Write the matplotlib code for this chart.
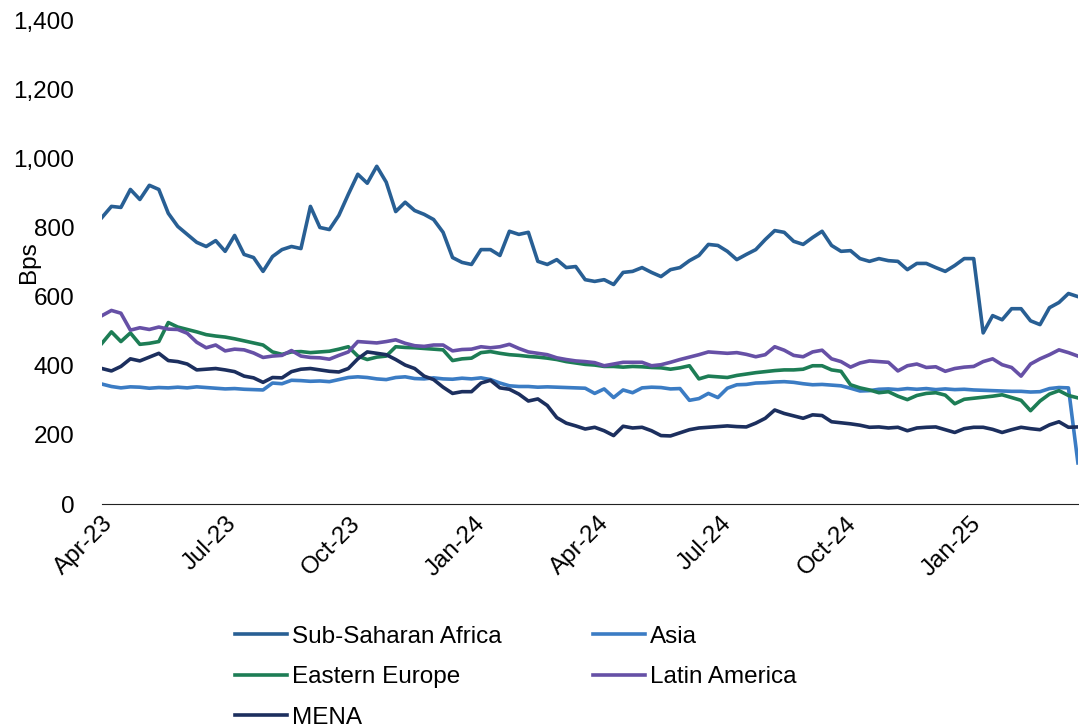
import pandas as pd
import numpy as np
import matplotlib.pyplot as plt
import matplotlib.dates as mdates
from matplotlib.ticker import FuncFormatter

plt.rcParams['font.family'] = ['Liberation Sans', 'DejaVu Sans']

# weekly readings, Apr-23 to Mar-25 (bps)
dates = pd.date_range('2023-04-01', periods=104, freq='7D')

ssa = [829, 861, 858, 910, 881, 922, 910, 841, 803, 780, 757, 745, 762, 731, 777, 722,
       713, 673, 716, 736, 745, 739, 861, 800, 794, 835, 896, 954, 928, 977, 931, 846,
       873, 849, 838, 823, 786, 713, 699, 693, 736, 736, 719, 789, 780, 786, 702, 693,
       707, 684, 687, 649, 644, 649, 635, 670, 673, 684, 670, 658, 678, 684, 704, 719,
       751, 748, 731, 707, 722, 736, 765, 791, 786, 760, 751, 771, 789, 748, 731, 733,
       710, 702, 710, 704, 702, 678, 696, 696, 684, 673, 690, 710, 710, 495, 545, 533,
       565, 565, 530, 519, 568, 583, 609, 600]

asia = [347, 340, 336, 339, 338, 335, 337, 336, 338, 336, 339, 337, 335, 333, 334, 332,
        331, 330, 350, 348, 358, 357, 355, 356, 354, 360, 366, 368, 366, 362, 360, 366,
        368, 363, 362, 365, 362, 361, 364, 362, 365, 360, 350, 342, 340, 340, 338, 339,
        338, 337, 336, 335, 320, 333, 308, 330, 322, 336, 338, 337, 333, 334, 300, 305,
        320, 308, 335, 345, 346, 350, 351, 353, 354, 352, 348, 345, 346, 344, 342, 335,
        327, 328, 332, 333, 331, 334, 332, 334, 331, 333, 331, 332, 330, 329, 328, 327,
        326, 326, 324, 325, 334, 337, 336, 119]

eastern_europe = [465, 498, 470, 495, 462, 465, 470, 525, 512, 505, 498, 490, 486, 483, 478, 472,
                  466, 460, 440, 433, 440, 441, 438, 440, 442, 448, 455, 428, 418, 425, 428, 455,
                  453, 452, 450, 448, 446, 415, 420, 422, 438, 441, 436, 432, 430, 427, 425, 422,
                  418, 412, 408, 404, 402, 398, 398, 396, 398, 397, 395, 394, 390, 394, 400, 362,
                  370, 368, 366, 372, 376, 380, 383, 386, 388, 388, 390, 400, 400, 388, 384, 345,
                  336, 330, 322, 325, 312, 302, 314, 320, 322, 315, 290, 303, 306, 309, 312, 316,
                  308, 300, 270, 298, 318, 328, 314, 307]

latin_america = [545, 560, 552, 503, 510, 505, 512, 506, 505, 494, 468, 452, 460, 443, 448, 446,
                 437, 424, 428, 430, 444, 428, 424, 423, 419, 430, 440, 470, 468, 466, 470, 475,
                 465, 458, 456, 460, 460, 443, 447, 448, 455, 452, 455, 462, 450, 440, 436, 432,
                 423, 418, 414, 412, 409, 400, 405, 410, 410, 410, 400, 403, 410, 418, 425, 432,
                 440, 438, 436, 438, 433, 426, 432, 455, 445, 430, 426, 440, 445, 420, 412, 396,
                 408, 414, 412, 410, 385, 400, 405, 395, 397, 384, 392, 396, 398, 412, 420, 403,
                 395, 370, 405, 420, 432, 446, 438, 428]

mena = [392, 385, 398, 420, 414, 425, 436, 415, 412, 405, 388, 390, 392, 388, 383, 370,
        365, 352, 366, 365, 383, 390, 392, 388, 384, 382, 392, 420, 440, 436, 432, 418,
        402, 392, 370, 360, 338, 320, 325, 325, 350, 358, 336, 332, 318, 298, 304, 285,
        250, 234, 226, 217, 222, 212, 198, 225, 220, 222, 212, 198, 197, 206, 215, 220,
        222, 224, 226, 224, 223, 234, 248, 272, 262, 255, 248, 258, 256, 238, 235, 232,
        228, 222, 223, 220, 222, 212, 220, 222, 223, 215, 207, 218, 222, 222, 216, 207,
        215, 222, 218, 215, 229, 238, 222, 223]

df = pd.DataFrame({'Sub-Saharan Africa': ssa, 'Asia': asia, 'Eastern Europe': eastern_europe,
                   'Latin America': latin_america, 'MENA': mena}, index=dates)
colors = {'Sub-Saharan Africa': '#285F94', 'Asia': '#3B7CC4', 'Eastern Europe': '#1D7D55',
          'Latin America': '#6650A6', 'MENA': '#1C2F5E'}

fig = plt.figure(figsize=(10.79, 7.27), dpi=100)
ax = fig.add_axes([0.0945, 0.3067, 0.9045, 0.6657])

lines = {}
for col in df.columns:
    lines[col], = ax.plot(df.index, df[col], color=colors[col], lw=2.6, label=col)

ax.set_xlim(dates[0], dates[-1])
ax.set_ylim(0, 1400)
ax.set_yticks(range(0, 1401, 200))
ax.yaxis.set_major_formatter(FuncFormatter(lambda v, p: f'{int(v):,}'))
ax.xaxis.set_major_locator(mdates.MonthLocator(bymonth=[1, 4, 7, 10]))
ax.xaxis.set_major_formatter(mdates.DateFormatter('%b-%y'))

for s in ['top', 'right', 'left']:
    ax.spines[s].set_visible(False)
ax.spines['bottom'].set_color('#222222')
ax.tick_params(axis='both', length=0, labelsize=17.5)
ax.tick_params(axis='y', pad=20)
ax.tick_params(axis='x', pad=6)
plt.setp(ax.get_xticklabels(), rotation=45, ha='right', rotation_mode='anchor')

ax.set_ylabel('Bps', fontsize=17.5)
ax.yaxis.set_label_coords(-0.063, 0.5)

# legend fills column by column, so order it to read row by row
order = ['Sub-Saharan Africa', 'Eastern Europe', 'MENA', 'Asia', 'Latin America']
fig.legend([lines[k] for k in order], order, loc='upper left', bbox_to_anchor=(0.218, 0.139),
           ncol=2, frameon=False, fontsize=17.5, handlelength=2.15, handletextpad=0.2,
           columnspacing=3.75, labelspacing=0.76, borderpad=0, borderaxespad=0)

fig.savefig('out.png', dpi=100)
